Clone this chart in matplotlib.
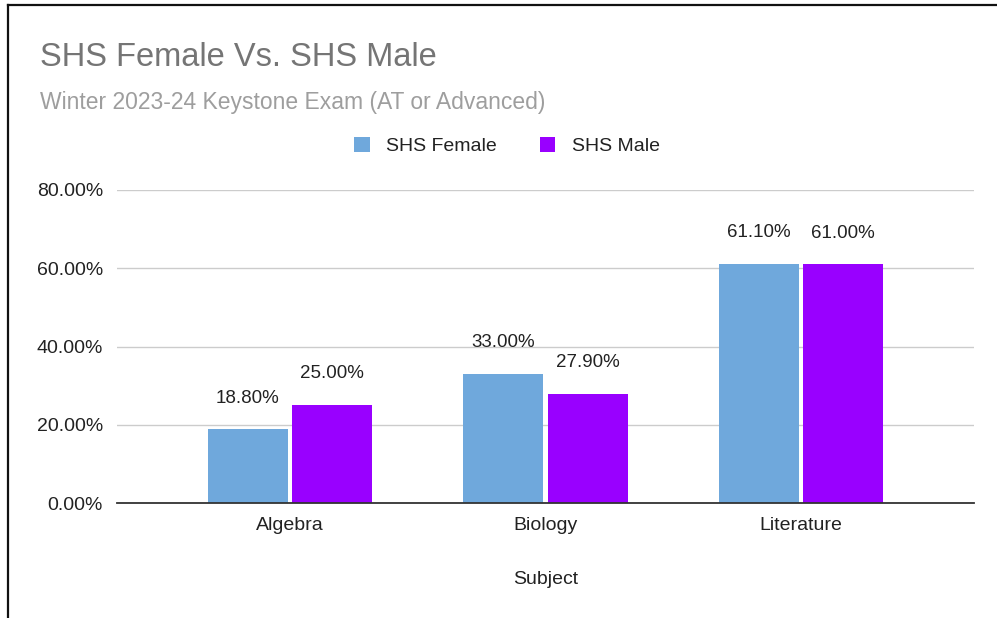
import matplotlib
matplotlib.use("Agg")
import matplotlib.pyplot as plt
from matplotlib.lines import Line2D
import numpy as np

categories = ["Algebra", "Biology", "Literature"]
female = [18.8, 33.0, 61.1]
male = [25.0, 27.9, 61.0]
series_names = ["SHS Female", "SHS Male"]
yticks = [0, 20, 40, 60, 80]

FONT = "Liberation Sans"
W, H = 997, 618
fig = plt.figure(figsize=(W / 100, H / 100), dpi=100)
ax = fig.add_axes([117 / W, 1 - 503 / H, (974 - 117) / W, (503 - 190) / H])

x = np.arange(len(categories))
bw = 0.313
gap = 0.008
c_f = "#6FA8DC"
c_m = "#9900FF"
b1 = ax.bar(x - bw / 2 - gap, female, bw, color=c_f, label=series_names[0], zorder=3)
b2 = ax.bar(x + bw / 2 + gap, male, bw, color=c_m, label=series_names[1], zorder=3)

for bars, vals in ((b1, female), (b2, male)):
    for b, v in zip(bars, vals):
        ax.annotate(f"{v:.2f}%", (b.get_x() + b.get_width() / 2, v),
                    xytext=(0, 22.5), textcoords="offset points", ha="center",
                    va="center", fontsize=13.5, color="#222222", family=FONT)

ax.set_xlim(-0.677, 2.677)
ax.set_ylim(0, 80)
ax.set_yticks(yticks)
ax.set_yticklabels([f"{t:.2f}%" for t in yticks], family=FONT, fontsize=14, color="#222222")
ax.set_xticks(x)
ax.set_xticklabels(categories, family=FONT, fontsize=14, color="#222222")
ax.tick_params(axis="both", length=0)
ax.tick_params(axis="y", pad=10)
ax.tick_params(axis="x", pad=10)
ax.grid(axis="y", color="#cccccc", linewidth=1, zorder=0)
for s in ["top", "right", "left"]:
    ax.spines[s].set_visible(False)
ax.spines["bottom"].set_color("#333333")
ax.spines["bottom"].set_linewidth(1.3)
ax.spines["bottom"].set_zorder(4)
ax.set_xlabel("Subject", family=FONT, fontsize=14, color="#222222", labelpad=27)

fig.text(40 / W, 1 - 57 / H, "SHS Female Vs. SHS Male", fontsize=23.5, color="#757575",
         family=FONT, va="center", ha="left")
fig.text(40 / W, 1 - 102 / H, "Winter 2023-24 Keystone Exam (AT or Advanced)", fontsize=16.5,
         color="#9e9e9e", family=FONT, va="center", ha="left")

leg = fig.legend(handles=[b1, b2], loc="center", bbox_to_anchor=(507 / W, 1 - 146 / H),
                 ncol=2, frameon=False, prop={"family": FONT, "size": 14},
                 handlelength=0.8, handleheight=0.8, handletextpad=0.85, columnspacing=2.2)
for t in leg.get_texts():
    t.set_color("#222222")

fig.add_artist(Line2D([8 / W, 1], [1 - 5 / H, 1 - 5 / H], transform=fig.transFigure,
                      color="#111111", linewidth=1.6))
fig.add_artist(Line2D([8 / W, 8 / W], [1 - 5 / H, 0], transform=fig.transFigure,
                      color="#111111", linewidth=1.6))

fig.savefig("out.png", dpi=100)
